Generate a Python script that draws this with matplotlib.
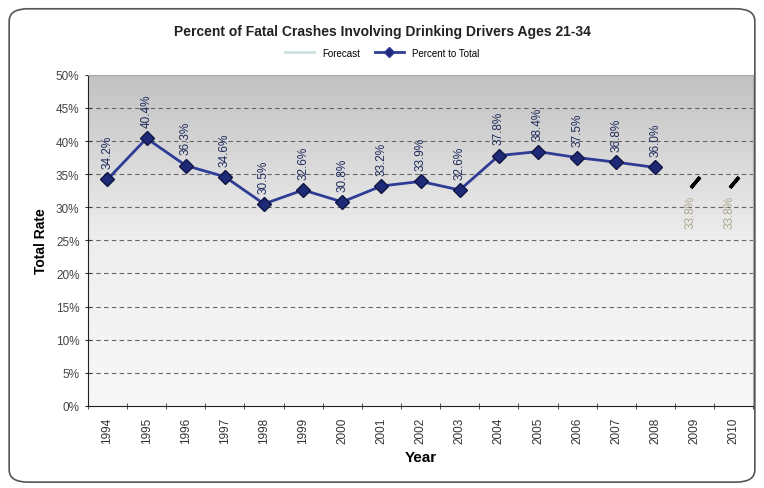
#!/usr/bin/env python3
import numpy as np
import matplotlib.pyplot as plt
from matplotlib.patches import FancyBboxPatch
from matplotlib.lines import Line2D
from matplotlib.colors import LinearSegmentedColormap

plt.rcParams["font.family"] = ["Liberation Sans", "DejaVu Sans"]

# ----------------------------
# Data
# ----------------------------
years = ["1994", "1995", "1996", "1997", "1998", "1999", "2000", "2001", "2002",
         "2003", "2004", "2005", "2006", "2007", "2008", "2009", "2010"]
actual_years = years[:15]
actual_pct = [34.2, 40.4, 36.3, 34.6, 30.5, 32.6, 30.8, 33.2, 33.9,
              32.6, 37.8, 38.4, 37.5, 36.8, 36.0]
forecast_years = ["2009", "2010"]
forecast_pct = [33.8, 33.8]
y_ticks = [0, 5, 10, 15, 20, 25, 30, 35, 40, 45, 50]

navy = "#2E3C96"
label_col = "#1F2A5C"

# ----------------------------
# Figure
# ----------------------------
fig = plt.figure(figsize=(7.64, 4.89), dpi=100)
fig.patch.set_facecolor("white")
border = FancyBboxPatch((0.012, 0.012), 0.976, 0.968, boxstyle="round,pad=0,rounding_size=0.025",
                        transform=fig.transFigure, fill=False, edgecolor="#555555", linewidth=1.2)
fig.patches.append(border)

ax = fig.add_axes([0.115, 0.168, 0.871, 0.677])
x_idx = {y: i for i, y in enumerate(years)}

# gradient background (light at bottom, grey at top)
grad = np.linspace(0, 1, 256).reshape(-1, 1)
cmap = LinearSegmentedColormap.from_list("bg", ["#f8f8f8", "#eeeeee", "#c2c2c2"])
ax.imshow(grad, extent=[0, 1, 0, 1], transform=ax.transAxes, cmap=cmap,
          aspect="auto", origin="lower", zorder=0)

for t in y_ticks[1:]:
    ax.axhline(t, color="#666666", linestyle=(0, (4, 3)), linewidth=0.8, zorder=1)

xa = [x_idx[y] for y in actual_years]
ax.plot(xa, actual_pct, color=navy, linewidth=2, marker="D", markersize=7,
        markerfacecolor="#1E2A78", markeredgecolor="#101540", zorder=3)
for x, v in zip(xa, actual_pct):
    ax.annotate(f"{v:.1f}%", (x, v), xytext=(0, 8), textcoords="offset points",
                rotation=90, ha="center", va="bottom", fontsize=8.5, color=label_col, zorder=4)

xf = [x_idx[y] for y in forecast_years]
ax.plot(xf, forecast_pct, linestyle="none", marker=(2, 2, -40), markersize=10,
        markeredgewidth=2.5, color="black", zorder=3)
for x, v in zip(xf, forecast_pct):
    ax.annotate(f"{v:.1f}%", (x, v), xytext=(-3, -9), textcoords="offset points",
                rotation=90, ha="center", va="top", fontsize=8.5, color="#b0a890", zorder=4)

ax.set_xlim(-0.5, len(years) - 0.5)
ax.set_ylim(0, 50)
ax.set_yticks(y_ticks)
ax.set_yticklabels([f"{t}%" for t in y_ticks], fontsize=8.5, color="#444444")
ax.set_xticks(range(len(years)))
ax.set_xticklabels(years, rotation=90, fontsize=8.5, color="#333333")
ax.set_xticks(np.arange(-0.5, len(years)), minor=True)
ax.tick_params(axis="x", which="major", length=0, pad=8)
ax.tick_params(axis="x", which="minor", length=5, direction="inout", color="#333333")
ax.tick_params(axis="y", length=5, direction="inout", color="#333333")
for s in ["top", "right"]:
    ax.spines[s].set_color("#aaaaaa")
for s in ["left", "bottom"]:
    ax.spines[s].set_color("#222222")

ax.set_xlabel("Year", fontsize=11, fontweight="bold", labelpad=5)
ax.set_ylabel("Total Rate", fontsize=10, fontweight="bold", labelpad=6)

fig.text(0.5, 0.935, "Percent of Fatal Crashes Involving Drinking Drivers Ages 21-34",
         ha="center", va="center", fontsize=10, fontweight="bold", color="#222222")

handles = [Line2D([], [], color="#cfe0e0", linewidth=2),
           Line2D([], [], color=navy, linewidth=2, marker="D", markersize=5,
                  markerfacecolor="#1E2A78")]
fig.legend(handles, ["Forecast", "Percent to Total"], loc="center", bbox_to_anchor=(0.5, 0.89),
           ncol=2, frameon=False, fontsize=7, handlelength=3, columnspacing=1.5)

fig.savefig("out.png", dpi=100)
